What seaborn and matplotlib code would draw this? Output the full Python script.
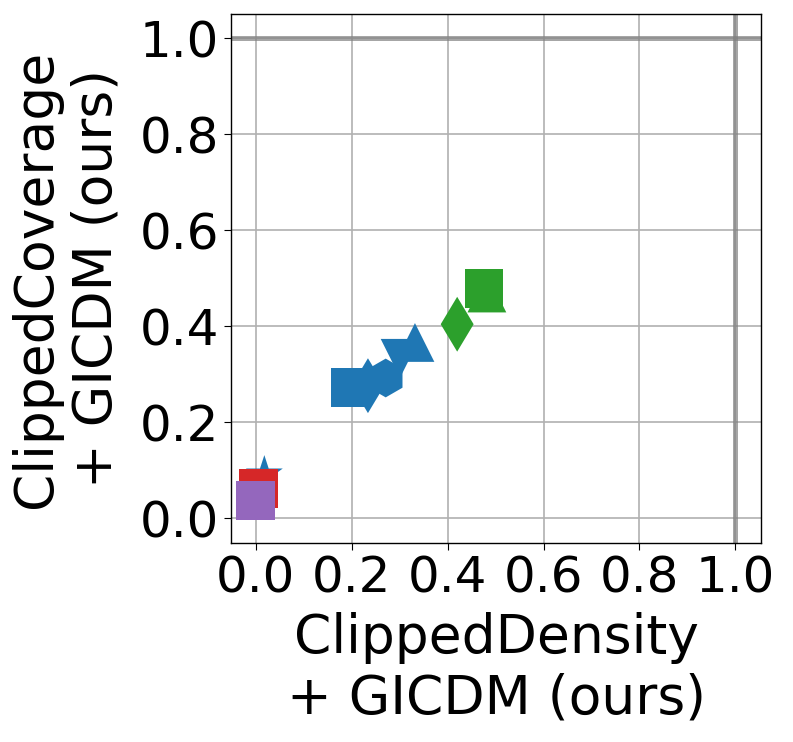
import pandas as pd
import matplotlib
matplotlib.use('Agg')
import matplotlib.pyplot as plt
import seaborn as sns

# points in drawing order (later ones sit on top)
density  = [0.198, 0.234, 0.271, 0.301, 0.332, 0.482, 0.476, 0.420, 0.018, 0.006, 0.000]
coverage = [0.273, 0.276, 0.292, 0.333, 0.366, 0.469, 0.478, 0.404, 0.091, 0.0625, 0.0375]
groups   = ['blue', 'blue', 'blue', 'blue', 'blue', 'green', 'green', 'green', 'blue', 'red', 'purple']
shapes   = ['square', 'thin_diamond', 'hexagon', 'tri_down', 'tri_up', 'tri_up', 'square',
            'thin_diamond', 'star', 'square', 'square']

palette = {'blue': '#1f77b4', 'green': '#2ca02c', 'red': '#d62728', 'purple': '#9467bd'}
marker_map = {'square': 's', 'thin_diamond': 'd', 'hexagon': 'h', 'tri_down': 'v',
              'tri_up': '^', 'star': '*'}

df = pd.DataFrame({'density': density, 'coverage': coverage,
                   'group': groups, 'shape': shapes})

fig = plt.figure(figsize=(7.93, 7.42), dpi=100)
ax = fig.add_axes([0.291, 0.268, 0.669, 0.713])

ax.grid(True, color='#b0b0b0', linewidth=1.2, zorder=0)
ax.set_axisbelow(True)
ax.axhline(1.0, color='gray', alpha=0.7, linewidth=3.6, zorder=1)
ax.axvline(1.0, color='gray', alpha=0.7, linewidth=3.6, zorder=1)

sns.scatterplot(data=df, x='density', y='coverage', hue='group', style='shape',
                palette=palette, markers=marker_map, s=780, linewidth=0,
                legend=False, ax=ax, zorder=3)

ax.set_xlim(-0.052, 1.054)
ax.set_ylim(-0.052, 1.05)
ticks = [0.0, 0.2, 0.4, 0.6, 0.8, 1.0]
ax.set_xticks(ticks)
ax.set_yticks(ticks)
ax.set_xticklabels([f'{t:.1f}' for t in ticks])
ax.set_yticklabels([f'{t:.1f}' for t in ticks])
ax.tick_params(labelsize=36, length=5)
for sp in ax.spines.values():
    sp.set_color('black')
    sp.set_linewidth(1.0)

ax.set_xlabel('ClippedDensity\n+ GICDM (ours)', fontsize=38.5, labelpad=6.5)
ax.set_ylabel('ClippedCoverage\n+ GICDM (ours)', fontsize=38.5, labelpad=12.5)

fig.savefig('out.png', dpi=100)
